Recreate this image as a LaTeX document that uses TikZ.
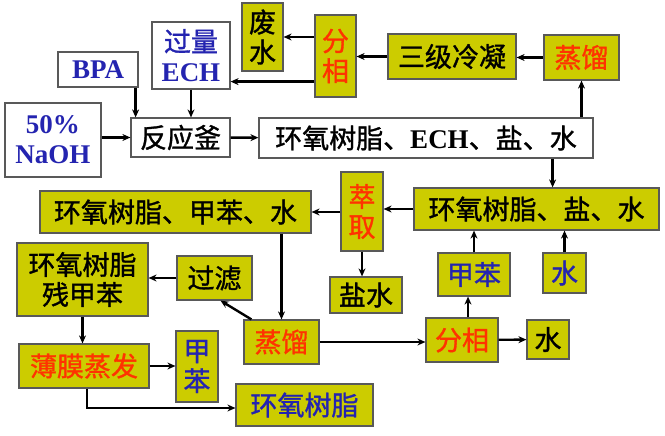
\documentclass[tikz,border=0pt]{standalone}
\usepackage{fontspec}
\setmainfont{Liberation Serif}
\newfontfamily\cjk[FakeBold=1.2]{Noto Sans CJK SC}
\usepackage{tikz}
\usetikzlibrary{arrows.meta}
\definecolor{olive}{RGB}{204,204,0}
\definecolor{redtxt}{RGB}{255,51,0}
\definecolor{bluetxt}{RGB}{36,36,176}
\newcommand{\en}[1]{{\rmfamily\bfseries #1}}

\begin{document}
\begin{tikzpicture}[x=1pt,y=-1pt]
  \tikzset{box/.style = {draw=gray!70!black,line width=1.2pt,inner sep=0pt,align=center,
      font=\cjk\fontsize{27}{30}\selectfont}}
  \tikzset{wbox/.style = {box,fill=white}}
  \tikzset{ybox/.style = {box,fill=olive}}
  \tikzset{sz/.style 2 args = {minimum width=#1pt,minimum height=#2pt}}
  \tikzset{edge/.style = {-{Stealth[length=8pt,width=7pt]},line width=2.4pt}}
  \useasboundingbox[fill=white] (0,0) rectangle (665,436);

	\node[ybox,sz={41}{68}] (Waste) at (262.5,37) {废\\水};
	\node[ybox,sz={41}{82},text=redtxt] (SepA) at (335.5,56) {分\\相};
	\node[wbox,sz={78}{67},text=bluetxt] (ECH) at (191,55.5) {过量\\\en{ECH}};
	\node[wbox,sz={80}{35},text=bluetxt] (BPA) at (98,69.5) {\en{BPA}};
	\node[wbox,sz={96}{74},text=bluetxt] (NaOH) at (53,140) {\en{50\%}\\\en{NaOH}};
	\node[wbox,sz={99}{39}] (Kettle) at (180.5,137.5) {反应釜};
	\node[wbox,sz={334}{40}] (MixA) at (426,138) {环氧树脂、\en{ECH}、盐、水};
	\node[ybox,sz={128}{45}] (Cond) at (452,56.5) {三级冷凝};
	\node[ybox,sz={75}{45},text=redtxt] (StillA) at (581.5,57.5) {蒸馏};
	\node[ybox,sz={42}{79},text=redtxt] (Extr) at (362,211.5) {萃\\取};
	\node[ybox,sz={245}{42}] (MixB) at (536.5,209) {环氧树脂、盐、水};
	\node[ybox,sz={72}{36}] (Brine) at (366,295) {盐水};
	\node[ybox,sz={72}{43},text=bluetxt] (TolA) at (474,274.5) {甲苯};
	\node[ybox,sz={43}{40},text=bluetxt] (WatA) at (564.5,273) {水};
	\node[ybox,sz={72}{44},text=redtxt] (SepB) at (462,340) {分相};
	\node[ybox,sz={42}{39}] (WatB) at (548,339.5) {水};
	\node[ybox,sz={271}{42}] (MixC) at (175.5,212) {环氧树脂、甲苯、水};
	\node[ybox,sz={131}{73}] (Resid) at (82.5,279.5) {环氧树脂\\残甲苯};
	\node[ybox,sz={75}{44}] (Filter) at (214.5,278) {过滤};
	\node[ybox,sz={75}{44},text=redtxt] (StillB) at (281.5,342) {蒸馏};
	\node[ybox,sz={130}{44},text=redtxt] (Film) at (84,366) {薄膜蒸发};
	\node[ybox,sz={42}{71},text=bluetxt] (TolB) at (197,366.5) {甲\\苯};
	\node[ybox,sz={137}{42},text=bluetxt] (Resin) at (304.5,405) {环氧树脂};

	% feed side
	\draw[edge] ([xshift=-3pt]BPA.south east) -- ([xshift=-3pt]BPA.south east |- Kettle.north);
	\draw[edge] (ECH.south) -- (ECH.south |- Kettle.north);
	\draw[edge] (Kettle.west -| NaOH.east) -- (Kettle.west);
	\draw[edge] (Kettle) -- (MixA);
	\draw[edge] (MixA.north -| StillA) -- (StillA.south);
	\draw[edge] (StillA.west) -- (StillA.west -| Cond.east);
	\draw[edge] (Cond.west) -- (Cond.west -| SepA.east);
	\draw[edge] (SepA.west |- Waste) -- (Waste.east);
	\draw[edge] ([yshift=16pt]SepA.south west) -- ([yshift=16pt]SepA.south west -| ECH.east);
	\draw[edge] ([xshift=-41pt]MixA.south east) -- ([xshift=-41pt]MixA.south east |- MixB.north);

	% washing
	\draw[edge] (MixB.west) -- (MixB.west -| Extr.east);
	\draw[edge] (Extr.west |- MixC) -- (MixC.east);
	\draw[edge] (Extr.south) -- (Extr.south |- Brine.north);
	\foreach \from in {TolA, WatA}
	  \draw[edge] (\from.north) -- (\from.north |- MixB.south);
	\draw[edge] ([xshift=6pt]SepB.north) -- ([xshift=6pt]SepB.north |- TolA.south);
	\draw[edge] (SepB) -- (WatB);
	\draw[edge] (StillB.east) -- (StillB.east -| SepB.west);
	\draw[edge] (MixC.south -| StillB) -- (StillB.north);

	% finishing
	\draw[edge] ([xshift=8pt]StillB.north west) -- ([xshift=6pt]Filter.south);
	\draw[edge] (Filter.west) -- (Filter.west -| Resid.east);
	\draw[edge] (Resid.south) -- (Resid.south |- Film.north);
	\draw[edge] (Film.east) -- (Film.east -| TolB.west);
	\draw[edge] ([xshift=3pt]Film.south) |- ([yshift=-3pt]Resin.west);

\end{tikzpicture}
\end{document}
